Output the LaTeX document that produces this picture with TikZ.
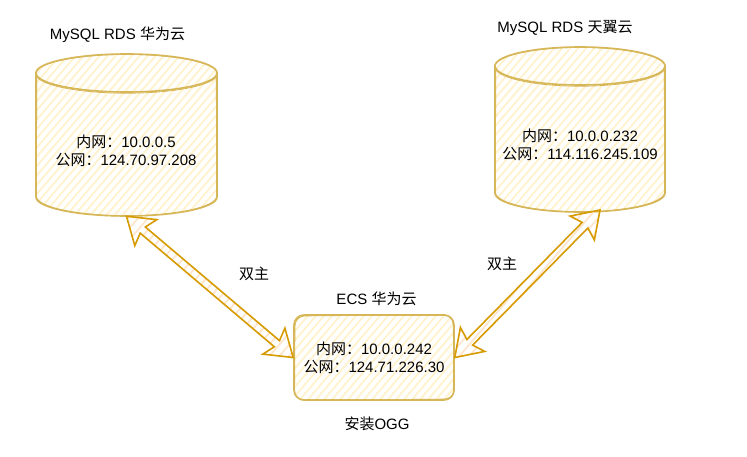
\documentclass[tikz,border=0pt]{standalone}
\usepackage{fontspec}
\setmainfont{Liberation Sans}
\newfontfamily\cjk{Noto Sans CJK SC}
\usetikzlibrary{calc}
\definecolor{shapeline}{HTML}{D6B656}
\definecolor{shapefill}{HTML}{FFF2CC}
\definecolor{arrowline}{HTML}{D79B00}
\definecolor{arrowfill}{HTML}{FFE6CC}
\tikzset{
  every node/.style={font=\fontsize{11.25}{13.5}\selectfont, text=black, align=center, inner sep=0pt},
  outline/.style={draw=shapeline, line width=1.2pt, line join=round},
  thinoutline/.style={draw=shapeline, line width=.6pt, line join=round},
  arrowoutline/.style={draw=arrowline, line width=1.2pt, line join=miter},
  anchorbox/.style={minimum width=#1*.75pt, rectangle},
}
% diagonal hachure over the whole page; used inside a clipping scope
\newcommand\hachure[2]{%
  \pgfmathtruncatemacro\hn{1160/#2}
  \foreach \hi in {0,...,\hn}
    \draw[#1, line width=1.35pt] ({-400+\hi*#2},460) -- ({\hi*#2},-5);}
\newcommand\sketchcyl[5]{% x1 x2 ytop ymid-of-ellipse-bottom ybottom
  \pgfmathsetmacro\rx{(#2-#1)/2}
  \pgfmathsetmacro\ry{(#4-#3)/2}
  \pgfmathsetmacro\ym{(#4+#3)/2}
  \pgfmathsetmacro\ys{#5-\ry}
  \pgfmathsetmacro\ryb{#5-\ys}
  \begin{scope}
    \clip (#1-1,\ym) arc[start angle=180,end angle=360,x radius=\rx+1,y radius=\ry+1]
      -- (#2+1,\ys) arc[start angle=0,end angle=180,x radius=\rx+1,y radius=\ryb+1] -- cycle;
    \hachure{shapefill}{8}
  \end{scope}
  \path[outline] (#1,\ym) -- (#1,\ys) arc[start angle=180,end angle=0,x radius=\rx,y radius=\ryb] -- (#2,\ym);
  \path[thinoutline] (#1+.8,\ym+1) -- (#1+.3,\ys-1) arc[start angle=180,end angle=0,x radius=\rx-.3,y radius=\ryb+.8] -- (#2-.7,\ym-1);
  \path[outline] ({(#1+#2)/2},\ym) ellipse ({\rx} and {\ry});
  \path[thinoutline] ({(#1+#2)/2},\ym+.8) ellipse ({\rx+.4} and {\ry+.4});
}
\newcommand\apt[4]{($(#1)!#3!(#2)!#4!90:(#2)$)}
\newcommand\arrowpath[2]{%
  (#1) -- \apt{#1}{#2}{19pt}{12.8pt} -- \apt{#1}{#2}{16pt}{3pt}
  -- \apt{#2}{#1}{16pt}{-3pt} -- \apt{#2}{#1}{19pt}{-12.8pt}
  -- (#2) -- \apt{#2}{#1}{19pt}{12.8pt} -- \apt{#2}{#1}{16pt}{3pt}
  -- \apt{#1}{#2}{16pt}{-3pt} -- \apt{#1}{#2}{19pt}{-12.8pt} -- cycle}
\newcommand\flatarrow[2]{%
  \begin{scope}
    \clip \arrowpath{#1}{#2};
    \hachure{arrowfill}{10}
  \end{scope}
  \path[arrowoutline] \arrowpath{#1}{#2};}
\begin{document}
\begin{tikzpicture}[x=.75pt,y=-.75pt]
  \useasboundingbox (0,0) rectangle (747,457);
  \fill[white] (0,0) rectangle (747,457);

  \sketchcyl{36}{217}{54}{92}{216}
  \sketchcyl{495}{665}{47}{85}{212}

  % ECS box hachure
  \begin{scope}
    \clip[rounded corners=7.5pt] (293.5,314.5) rectangle (454.5,400.5);
    \hachure{shapefill}{8}
  \end{scope}

  \node[anchorbox=181, minimum height=121.5pt] (rdsL) at (126.5,135) {};
  \node[anchorbox=170, minimum height=124.5pt] (rdsR) at (580,129.5) {};
  \coordinate (rdsRtip) at (600,210);

  \node[anchorbox=160, minimum height=63.75pt, rounded corners=7.5pt, outline] (ecs) at (374,357.5)
    {{\cjk 内网：}10.0.0.242\\{\cjk 公网：}124.71.226.30};
  \draw[thinoutline, rounded corners=7.5pt] (295,316) -- (453,314.5) -- (454.5,399) -- (294.5,400.5) -- cycle;

  \flatarrow{rdsL.south}{ecs.west}
  \flatarrow{rdsRtip}{ecs.east}

  \node (rdsLinfo) at (126,151) {{\cjk 内网：}10.0.0.5\\{\cjk 公网：}124.70.97.208};
  \node (rdsRinfo) at (580,145) {{\cjk 内网：}10.0.0.232\\{\cjk 公网：}114.116.245.109};
  \node (rdsLtitle) at (117.5,35) {MySQL RDS {\cjk 华为云}};
  \node (rdsRtitle) at (565,28) {MySQL RDS {\cjk 天翼云}};
  \node (ecstitle) at (376.5,299) {ECS {\cjk 华为云}};
  \node (syncL) at (254,274) {\cjk 双主};
  \node (syncR) at (502,264) {\cjk 双主};
  \node (ogg) at (377,423.5) {{\cjk 安装}OGG};
\end{tikzpicture}
\end{document}
